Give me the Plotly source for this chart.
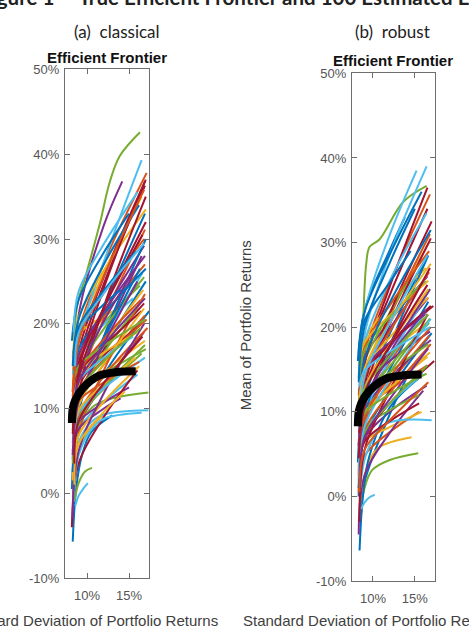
import plotly.graph_objects as go

# ---------------- data (percent units) ----------------
y_tick_vals = [-10, 0, 10, 20, 30, 40, 50]
y_tick_text = ["-10%", "0%", "10%", "20%", "30%", "40%", "50%"]
x_tick_vals = [10, 15]
x_tick_text = ["10%", "15%"]

NB = "\u00a0"
panel_titles = ["(a)" + NB * 2 + "classical", "(b)" + NB * 2 + "robust"]
figure_title = "Figure 1" + NB * 5 + "True Efficient Frontier and 100 Estimated Efficient Frontiers"
axes_title = "Efficient Frontier"
x_label = "Standard Deviation of Portfolio Returns"
y_label = "Mean of Portfolio Returns"

# true efficient frontier (std dev %, mean %)
true_sd = [8.2, 8.3, 8.6, 9.5, 11.5, 13.5, 15.8]
true_ret = [8.3, 10.0, 11.0, 12.4, 13.9, 14.3, 14.4]

# (a) classical: estimated frontiers (std dev %)
classical_sd = [
    [8.4, 9.0, 12, 16.9], [8.3, 9.0, 12, 17.1], [8.5, 9.0, 12, 16.5], [8.6, 9.0, 12, 14.2], [8.4, 8.8, 9.8, 11.5, 12.7, 13.9, 16.3], [8.4, 9.0, 12, 16.5], [8.5, 9.0, 12, 17.0],
    [8.3, 9.0, 12, 17.0], [8.5, 9.0, 12, 16.9], [8.5, 9.0, 12, 14.2], [8.4, 9.0, 12, 16.8], [8.5, 9.0, 12, 16.3], [8.4, 9.0, 12, 16.6], [8.4, 9.0, 12, 16.9],
    [8.4, 9.0, 12, 17.4], [8.3, 9.0, 12, 16.9], [8.3, 9.0, 12, 16.9], [8.6, 9.0, 12, 16.5], [8.4, 9.0, 12, 16.5], [8.3, 9.0, 12, 15.5], [8.3, 9.0, 12, 16.8],
    [8.3, 8.7, 9.4, 10.5, 13.0], [8.6, 9.0, 12, 16.9], [8.6, 9.2, 10.5, 12.1], [8.4, 9.0, 12, 16.8], [8.4, 9.0, 10.7, 13.0, 17.3], [8.4, 9.0, 12, 16.0], [8.4, 9.0, 12, 16.5],
    [8.2, 9.0, 12, 17.0], [8.4, 9.0, 12, 16.9], [8.3, 9.0, 12, 17.0], [8.3, 9.0, 12, 15.0], [8.5, 9.0, 9.8, 10.6], [8.5, 9.0, 10.5, 12, 17.3], [8.2, 9.0, 12, 16.0],
    [8.2, 9.0, 12, 15.0], [8.4, 9.0, 12, 17.2], [8.3, 9.0, 12, 16.7], [8.3, 9.0, 12, 14.0], [8.3, 9.0, 12, 16.0], [8.4, 9.0, 10.5, 12, 16.5], [8.4, 9.0, 12, 17.0],
    [8.5, 9.0, 12, 17.0], [8.4, 9.0, 12, 16.8], [8.3, 9.0, 12, 16.2], [8.3, 9.0, 12, 16.8], [8.5, 9.0, 12, 16.8], [8.6, 9.0, 9.6, 10.1], [8.5, 9.0, 12, 16.6],
    [8.3, 9.0, 12, 16.3], [8.5, 9.0, 12, 17.1], [8.4, 9.0, 12, 16.0], [8.6, 9.0, 12, 16.9], [8.3, 9.0, 12, 16.9], [8.4, 9.0, 12, 16.9], [8.3, 9.0, 12, 16.5],
    [8.3, 9.0, 12, 16.2], [8.5, 9.0, 12, 16.4], [8.3, 9.0, 12, 16.8], [8.4, 9.0, 12, 16.4], [8.4, 9.0, 12, 16.9], [8.4, 9.0, 12, 16.0], [8.4, 9.0, 12, 16.9],
    [8.4, 9.0, 12, 14.0], [8.3, 9.0, 12, 16.8], [8.5, 9.0, 12, 15.8], [8.3, 9.0, 12, 16.0], [8.5, 9.0, 12, 17.0], [8.5, 9.0, 12, 15.5], [8.3, 9.0, 12, 17.0],
    [8.5, 9.0, 12, 15.8], [8.3, 9.0, 12, 16.2], [8.5, 9.0, 12, 14.5], [8.4, 9.0, 12, 16.9], [8.4, 9.0, 12, 16.4], [8.6, 9.0, 12, 16.8], [8.5, 9.0, 12, 16.6],
]
# (a) classical: estimated frontiers (mean %)
classical_ret = [
    [6.0, 13.3, 21.9, 33.0], [12.0, 19.0, 27.2, 37.8], [13.0, 18.9, 26.0, 35.0], [14.0, 21.0, 31.6, 36.8], [14.0, 22.0, 25.5, 31.7, 36.7, 39.8, 42.6], [10.0, 17.9, 27.3, 39.3], [9.0, 16.6, 25.5, 37.0],
    [4.0, 11.0, 17.0, 25.0], [5.0, 12.5, 20.6, 31.1], [17.0, 18.8, 20.9, 22.0], [10.0, 15.2, 21.3, 29.2], [12.5, 16.0, 20.1, 24.5], [7.0, 12.5, 18.4, 26.0], [8.0, 15.6, 24.7, 36.3],
    [0.0, 8.0, 14.0, 21.5], [12.0, 16.1, 20.9, 27.0], [8.0, 11.2, 14.2, 18.0], [3.0, 10.5, 18.3, 28.0], [5.0, 9.0, 12.3, 16.5], [14.0, 16.8, 19.9, 23.0], [9.0, 12.6, 16.9, 22.4],
    [-5.7, 0.5, 4.5, 7.2, 9.2], [6.0, 10.5, 15.2, 21.0], [2.0, 5.5, 7.8, 9.4], [2.0, 8.0, 12.8, 19.0], [4.0, 7.8, 10.2, 11.2, 11.9], [3.0, 7.5, 10.8, 14.0], [11.0, 13.4, 16.3, 20.0],
    [0.5, 9.5, 18.5, 30.0], [-1.0, 7.0, 14.5, 23.5], [16.0, 20.7, 26.3, 33.5], [6.0, 8.4, 10.7, 12.5], [-1.0, 1.2, 2.6, 3.0], [2.0, 6.0, 8.4, 9.3, 9.8], [-4.0, 3.5, 9.0, 14.5],
    [18.0, 22.8, 28.4, 33.0], [4.5, 9.2, 13.8, 19.5], [8.5, 12.7, 17.6, 24.0], [5.0, 7.6, 10.0, 11.2], [7.5, 11.7, 16.6, 22.0], [-1.0, 4.5, 7.5, 8.8, 9.5], [2.0, 11.5, 22.0, 35.0],
    [13.5, 17.0, 21.2, 26.5], [14.5, 18.7, 23.6, 30.0], [1.5, 6.8, 10.8, 15.0], [-3.0, 5.0, 11.8, 20.0], [10.5, 14.6, 19.4, 25.5], [-1.5, -0.3, 0.6, 1.2], [9.5, 15.2, 21.9, 30.5],
    [2.5, 10.0, 18.0, 26.5], [9.0, 12.1, 15.8, 20.5], [12.5, 14.4, 16.6, 19.0], [12.0, 16.3, 21.4, 28.0], [3.5, 8.5, 12.5, 17.5], [6.5, 9.5, 12.4, 16.0], [11.5, 14.2, 17.4, 21.5],
    [15.0, 20.5, 27.0, 34.0], [10.5, 14.1, 18.2, 22.8], [5.5, 10.3, 15.3, 21.8], [8.0, 13.7, 20.3, 27.5], [13.0, 15.0, 17.4, 20.5], [19.0, 23.8, 29.4, 35.5], [6.0, 14.3, 24.2, 36.8],
    [16.5, 19.1, 22.3, 24.0], [11.0, 17.7, 25.6, 35.8], [7.0, 9.8, 12.9, 16.0], [4.5, 10.8, 17.6, 25.0], [10.0, 11.9, 14.1, 17.0], [11.0, 13.3, 16.0, 18.5], [7.0, 13.8, 21.8, 32.0],
    [16.0, 19.6, 23.9, 28.5], [9.0, 10.9, 13.1, 15.5], [1.0, 5.8, 9.6, 12.0], [9.5, 13.1, 17.5, 23.0], [9.0, 12.0, 15.6, 19.5], [15.0, 18.9, 23.6, 29.5], [3.5, 8.5, 13.0, 18.5],
]

# (b) robust: estimated frontiers (std dev %)
robust_sd = [
    [8.2, 9.0, 12, 13.8], [8.5, 9.0, 12, 16.8], [8.4, 9.0, 12, 16.7], [8.4, 9.0, 12, 16.5], [8.4, 8.8, 9.2, 9.6, 10.8, 13.6, 16.4], [8.4, 9.0, 12, 16.4], [8.4, 9.0, 12, 16.5],
    [8.2, 9.0, 12, 16.0], [8.4, 9.0, 12, 16.8], [8.5, 9.0, 12, 16.3], [8.3, 9.0, 12, 16.2], [8.3, 9.0, 12, 15.8], [8.3, 9.0, 12, 15.2], [8.3, 9.0, 12, 16.5],
    [8.5, 9.0, 12, 16.6], [8.4, 9.0, 12, 16.9], [8.4, 9.0, 12, 16.4], [8.4, 9.0, 12, 16.6], [8.5, 9.0, 12, 16.8], [8.4, 9.0, 12, 16.4], [8.3, 9.0, 12, 17.0],
    [8.3, 9.0, 12, 17.0], [8.4, 9.0, 12, 16.7], [8.3, 9.0, 12, 16.8], [8.5, 9.0, 12, 16.9], [8.3, 9.0, 12, 16.6], [8.3, 9.0, 12, 16.8], [8.5, 9.0, 12, 16.9],
    [8.6, 9.0, 12, 14.5], [8.4, 9.0, 12, 16.5], [8.5, 9.2, 10.6, 14.6], [8.5, 9.0, 12, 16.4], [8.4, 9.0, 9.9, 12.0, 15.4], [8.3, 9.0, 12, 16.5], [8.3, 9.0, 12, 17.2],
    [8.4, 8.8, 9.5, 12, 15.5], [8.3, 9.0, 12, 15.5], [8.4, 9.0, 12, 15.8], [8.3, 9.0, 12, 16.0], [8.5, 9.0, 12, 15.5], [8.5, 9.2, 11.4, 17.0], [8.4, 9.0, 12, 17.3],
    [8.3, 9.0, 12, 16.6], [8.4, 9.0, 12, 16.7], [8.3, 9.0, 12, 16.6], [8.5, 9.0, 12, 16.8], [8.4, 9.0, 12, 16.7], [8.6, 9.0, 9.6, 10.2], [8.4, 9.0, 12, 15.5],
    [8.3, 9.0, 12, 14.5], [8.5, 9.0, 12, 16.7], [8.4, 9.0, 12, 16.6], [8.3, 9.0, 12, 16.8], [8.4, 9.0, 12, 16.2], [8.3, 9.0, 12, 16.0], [8.4, 9.0, 12, 16.5],
    [8.4, 9.0, 12, 16.9], [8.3, 9.0, 12, 16.9], [8.5, 9.0, 12, 16.5], [8.4, 9.0, 12, 16.2], [8.3, 9.0, 12, 16.5], [8.3, 9.0, 12, 16.9], [8.4, 9.0, 12, 16.9],
    [8.3, 9.0, 12, 15.0], [8.4, 9.0, 12, 16.9], [8.3, 9.0, 12, 16.9], [8.4, 9.0, 12, 16.6], [8.5, 9.0, 12, 16.4], [8.5, 9.0, 12, 16.5], [8.3, 9.0, 12, 16.8],
    [8.3, 9.0, 12, 15.8], [8.4, 9.0, 12, 16.6], [8.5, 9.0, 12, 16.6], [8.4, 9.0, 12, 16.3], [8.3, 9.0, 12, 16.6], [8.4, 9.0, 12, 16.8], [8.4, 9.0, 12, 16.5],
]
# (b) robust: estimated frontiers (mean %)
robust_ret = [
    [16.0, 22.0, 29.1, 33.0], [10.0, 16.9, 25.2, 35.7], [9.0, 14.7, 21.4, 30.0], [13.0, 16.5, 20.7, 26.0], [12.0, 20.0, 27.5, 29.5, 30.4, 34.8, 36.7], [11.0, 19.1, 28.6, 39.0], [8.0, 15.7, 24.8, 36.5],
    [4.0, 11.5, 19.2, 27.5], [7.0, 13.5, 21.2, 31.0], [15.0, 18.5, 22.6, 27.0], [10.0, 14.5, 19.8, 25.5], [11.0, 15.9, 21.7, 28.0], [14.0, 21.8, 30.9, 38.5], [9.0, 15.8, 23.8, 34.0],
    [2.0, 9.0, 15.0, 23.0], [6.0, 10.8, 15.9, 22.5], [11.0, 13.8, 17.0, 20.5], [9.0, 12.9, 17.6, 23.5], [5.0, 9.6, 14.6, 21.0], [12.0, 18.2, 25.5, 33.5], [6.0, 13.2, 21.6, 32.5],
    [0.0, 7.0, 12.5, 19.3], [4.0, 8.8, 13.3, 19.0], [6.5, 9.6, 12.9, 17.0], [7.0, 10.3, 14.0, 18.5], [10.0, 12.2, 14.7, 18.0], [3.0, 9.5, 16.2, 24.5], [5.0, 12.3, 20.3, 30.5],
    [-2.0, 1.7, 9.7, 15.0], [8.5, 10.4, 12.6, 15.5], [-1.0, 3.2, 5.7, 7.0], [3.0, 6.8, 10.0, 13.1], [-2.5, 1.0, 3.1, 4.3, 5.1], [8.0, 11.8, 16.3, 22.0], [12.0, 14.8, 18.2, 22.5],
    [-6.4, 0.0, 4.5, 10.5, 14.0], [0.5, 4.8, 7.6, 10.0], [4.5, 6.5, 8.2, 10.0], [-4.5, 2.5, 7.5, 12.5], [6.0, 8.2, 10.2, 12.0], [1.0, 5.0, 8.5, 9.0], [2.5, 7.0, 11.0, 16.0],
    [1.0, 9.5, 17.8, 28.5], [13.5, 17.7, 22.6, 29.0], [15.5, 18.2, 21.4, 25.5], [11.0, 13.3, 16.0, 19.5], [8.0, 11.4, 15.4, 20.5], [-1.5, -0.7, -0.1, 0.2], [3.5, 6.5, 8.9, 11.0],
    [17.0, 20.8, 25.3, 29.0], [9.5, 14.1, 19.5, 26.5], [12.0, 15.1, 18.8, 23.5], [6.0, 11.0, 16.9, 24.5], [14.0, 17.3, 21.2, 25.5], [5.0, 7.8, 11.0, 14.5], [-3.0, 5.5, 12.5, 21.5],
    [10.5, 16.2, 22.9, 31.5], [2.5, 7.8, 12.2, 18.0], [7.5, 9.9, 12.8, 16.5], [12.5, 15.1, 18.2, 21.5], [3.5, 7.5, 11.0, 15.5], [2.0, 8.2, 13.8, 21.0], [11.5, 14.5, 18.0, 22.5],
    [13.5, 20.1, 27.6, 34.0], [5.5, 9.4, 14.1, 20.0], [10.5, 15.1, 20.5, 27.5], [1.5, 7.0, 11.5, 17.5], [8.0, 9.9, 12.1, 14.5], [9.0, 14.3, 20.5, 28.5], [4.5, 10.6, 17.8, 27.0],
    [16.0, 21.8, 28.6, 36.0], [0.5, 5.5, 9.0, 13.5], [8.5, 12.8, 17.9, 24.5], [7.0, 11.4, 16.5, 22.0], [9.5, 12.7, 16.6, 21.5], [13.0, 14.9, 17.1, 20.0], [7.5, 12.2, 17.8, 25.0],
]

# ---------------- styling ----------------
W, H = 469, 630
COLORS = ["#0072BD", "#D95319", "#EDB120", "#7E2F8E", "#77AC30", "#4DBEEE", "#A2142F"]
AX_COLOR = "#6e6e6e"
TICK_FONT = dict(family="Liberation Sans, Arial, sans-serif", size=13, color="#555555")
LABEL_FONT = dict(family="Liberation Sans, Arial, sans-serif", size=15, color="#404040")


def pxx(x):
    return x / W


def pxy(y):
    return 1 - y / H


fig = go.Figure()

panels = [
    ("x", "y", classical_sd, classical_ret),
    ("x2", "y2", robust_sd, robust_ret),
]
for xa, ya, sds, rets in panels:
    for i, (xs, ys) in enumerate(zip(sds, rets)):
        fig.add_trace(go.Scatter(
            x=xs, y=ys, mode="lines", xaxis=xa, yaxis=ya,
            line=dict(color=COLORS[i % 7], width=2, shape="spline", smoothing=1.0),
            hoverinfo="skip", showlegend=False))
    fig.add_trace(go.Scatter(
        x=true_sd, y=true_ret, mode="lines", xaxis=xa, yaxis=ya,
        line=dict(color="black", width=8, shape="spline", smoothing=1.0),
        hoverinfo="skip", showlegend=False))


def xaxis_cfg(left, right, rng, anchor):
    return dict(domain=[pxx(left), pxx(right)], range=rng, anchor=anchor,
                tickvals=x_tick_vals, ticktext=x_tick_text, ticks="inside", ticklen=5,
                tickcolor=AX_COLOR, showline=True, linecolor=AX_COLOR, linewidth=1,
                mirror="ticks", showgrid=False, zeroline=False, tickfont=TICK_FONT,
                ticklabelstandoff=5, fixedrange=True)


def yaxis_cfg(top, bottom, anchor):
    return dict(domain=[pxy(bottom), pxy(top)], range=[-10, 50], anchor=anchor,
                tickvals=y_tick_vals, ticktext=y_tick_text, ticks="inside", ticklen=5,
                tickcolor=AX_COLOR, showline=True, linecolor=AX_COLOR, linewidth=1,
                mirror="ticks", showgrid=False, zeroline=False, tickfont=TICK_FONT,
                ticklabelstandoff=2, fixedrange=True)


annotations = [
    dict(text="<b>" + figure_title + "</b>", x=pxx(-22), y=pxy(-10), xanchor="left", yanchor="middle",
         font=dict(family="Lato, sans-serif", size=20.5, color="#222222")),
    dict(text=panel_titles[0], x=pxx(117), y=pxy(25), xanchor="center", yanchor="middle",
         font=dict(family="Lato, sans-serif", size=17, color="#222222")),
    dict(text=panel_titles[1], x=pxx(392), y=pxy(25), xanchor="center", yanchor="middle",
         font=dict(family="Lato, sans-serif", size=17, color="#222222")),
    dict(text="<b>" + axes_title + "</b>", x=pxx(107), y=pxy(52), xanchor="center", yanchor="middle",
         font=dict(family="Liberation Sans, Arial, sans-serif", size=15, color="#111111")),
    dict(text="<b>" + axes_title + "</b>", x=pxx(393), y=pxy(55), xanchor="center", yanchor="middle",
         font=dict(family="Liberation Sans, Arial, sans-serif", size=15, color="#111111")),
    dict(text=y_label, x=pxx(245), y=pxy(326), xanchor="center", yanchor="middle",
         textangle=-90, font=LABEL_FONT),
    dict(text=x_label, x=pxx(88), y=pxy(628), xanchor="center", yanchor="middle", font=LABEL_FONT),
    dict(text=x_label, x=pxx(373), y=pxy(628), xanchor="center", yanchor="middle", font=LABEL_FONT),
]
for a in annotations:
    a.update(xref="paper", yref="paper", showarrow=False)

fig.update_layout(
    width=W, height=H, margin=dict(l=0, r=0, t=0, b=0),
    paper_bgcolor="white", plot_bgcolor="white",
    xaxis=xaxis_cfg(65, 149, [7.38, 17.38], "y"),
    yaxis=yaxis_cfg(64, 585, "x"),
    xaxis2=xaxis_cfg(352, 435, [7.5, 17.4], "y2"),
    yaxis2=yaxis_cfg(68, 588, "x2"),
    annotations=annotations,
    showlegend=False,
)

fig.write_html("out.html")
